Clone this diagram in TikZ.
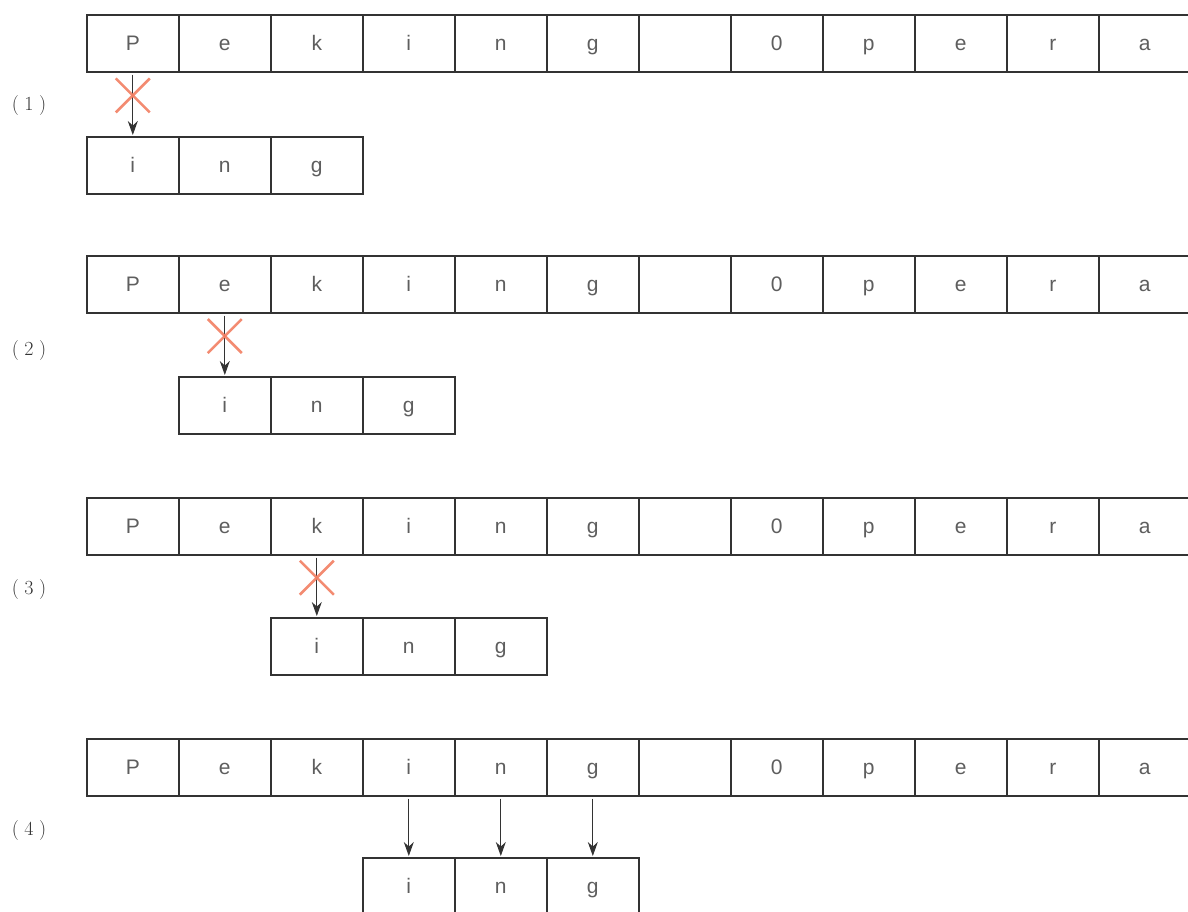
\documentclass[tikz,border=0pt]{standalone}
\usepackage{fontspec}
\usetikzlibrary{arrows.meta}
\newfontfamily\cellfont{Liberation Sans}
\definecolor{crossred}{HTML}{F27E62}
\definecolor{boxline}{HTML}{333333}
\definecolor{celltext}{HTML}{5E5E5E}
\begin{document}
\begin{tikzpicture}[x=1pt,y=-1pt,
  cell/.style={draw=boxline, line width=1.6pt, minimum width=92pt, minimum height=57pt,
    inner sep=0pt, anchor=north west, text=celltext,
    font=\cellfont\fontsize{21}{21}\selectfont, text height=15pt, text depth=0pt},
  steplabel/.style={font=\fontsize{20}{20}\selectfont, text=black!80},
  ptr/.style={draw=black!80, line width=1.1pt, -{Stealth[length=14pt,width=10pt]}, shorten >=1pt, shorten <=2pt},
  cross/.style={draw=crossred, line width=2.6pt, opacity=0.9}
]
\useasboundingbox (0,0) rectangle (1188,912);
% rows
\foreach \r/\top/\stop/\soff in {1/14/136/0, 2/255/376/1, 3/497/617/2, 4/738/857/3}{
  \foreach \ch [count=\i from 0] in {P,e,k,i,n,g,{},0,p,e,r,a}{
    \node[cell] (t\r c\i) at ({86+92*\i},\top) {\ch};
  }
  \foreach \ch [count=\i from 0] in {i,n,g}{
    \node[cell] (s\r c\i) at ({86+92*(\i+\soff)},\stop) {\ch};
  }
}
\node[steplabel] (l1) at (29,106) {(\;1\;)};
\node[steplabel] (l2) at (29,351) {(\;2\;)};
\node[steplabel] (l3) at (29,590) {(\;3\;)};
\node[steplabel] (l4) at (29,831) {(\;4\;)};
% failed comparisons
\foreach \r/\c in {1/0,2/1,3/2}{
  \draw[ptr] (t\r c\c.south) -- coordinate[pos=0.36] (x\r) (s\r c0.north);
  \draw[cross] ([shift={(-17,-17)}]x\r) -- ([shift={(17,17)}]x\r);
  \draw[cross] ([shift={(-17,17)}]x\r) -- ([shift={(17,-17)}]x\r);
}
% successful match
\draw[ptr] (t4c3.south) -- (s4c0.north);
\draw[ptr] (t4c4.south) -- (s4c1.north);
\draw[ptr] (t4c5.south) -- (s4c2.north);
\end{tikzpicture}
\end{document}
